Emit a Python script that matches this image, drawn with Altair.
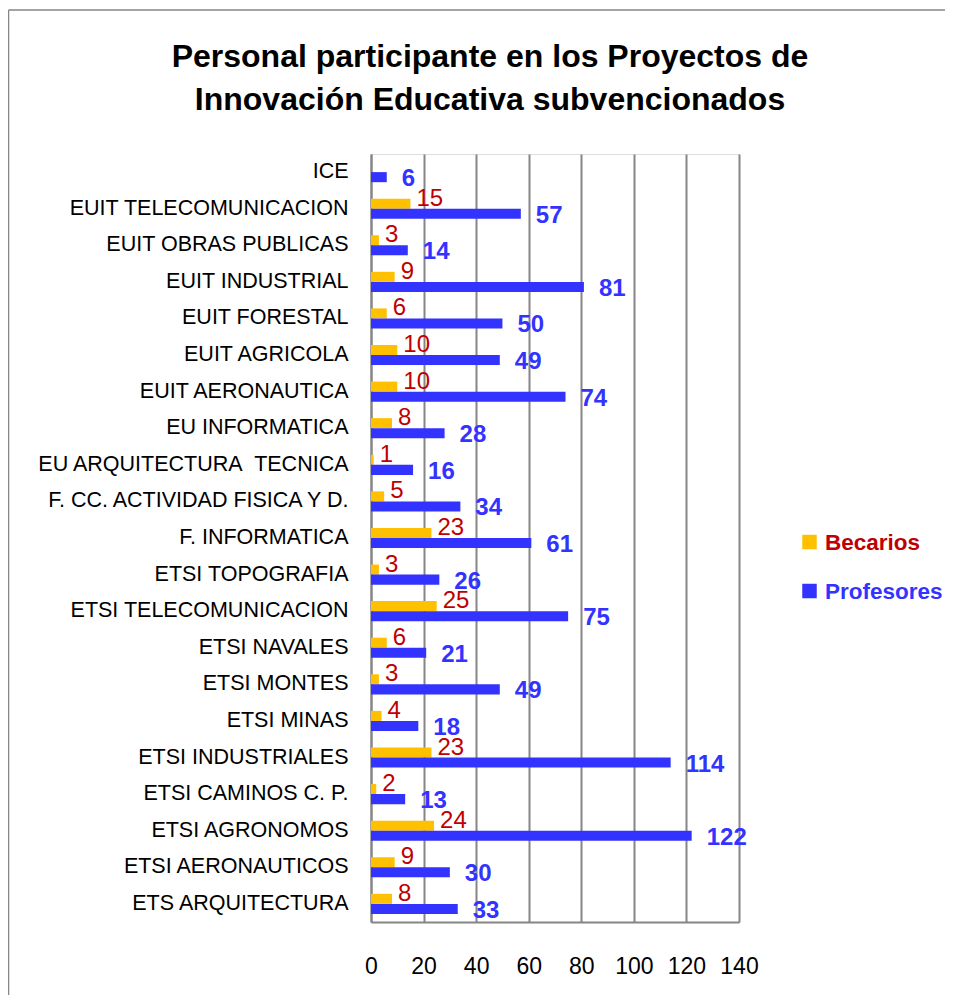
import altair as alt
import pandas as pd

NB = "\u00a0"
categories = [
    "ICE",
    "EUIT TELECOMUNICACION" + NB,
    "EUIT OBRAS PUBLICAS",
    "EUIT INDUSTRIAL",
    "EUIT FORESTAL",
    "EUIT AGRICOLA",
    "EUIT AERONAUTICA",
    "EU INFORMATICA",
    "EU ARQUITECTURA" + NB + " TECNICA",
    "F. CC. ACTIVIDAD FISICA Y D.",
    "F. INFORMATICA",
    "ETSI TOPOGRAFIA",
    "ETSI TELECOMUNICACION" + NB,
    "ETSI NAVALES",
    "ETSI MONTES",
    "ETSI MINAS",
    "ETSI INDUSTRIALES",
    "ETSI CAMINOS C. P.",
    "ETSI AGRONOMOS",
    "ETSI AERONAUTICOS",
    "ETS ARQUITECTURA" + NB,
]
becarios = [0, 15, 3, 9, 6, 10, 10, 8, 1, 5, 23, 3, 25, 6, 3, 4, 23, 2, 24, 9, 8]
profesores = [6, 57, 14, 81, 50, 49, 74, 28, 16, 34, 61, 26, 75, 21, 49, 18, 114, 13, 122, 30, 33]
series = ["Becarios", "Profesores"]
bar_colors = ["#FFC000", "#3333FF"]
label_colors = ["#C00000", "#3333FF"]
x_ticks = [0, 20, 40, 60, 80, 100, 120, 140]
title_lines = ["Personal participante en los Proyectos de", "Innovación Educativa subvencionados"]

rows = []
for c, b, p in zip(categories, becarios, profesores):
    rows.append({"cat": c, "serie": "Becarios", "val": b})
    rows.append({"cat": c, "serie": "Profesores", "val": p})
df = pd.DataFrame(rows)

REG = "Liberation Sans"
GRID = "#868686"

y_enc = alt.Y("cat:N", sort=categories, title=None,
              scale=alt.Scale(paddingInner=0.45, paddingOuter=0.22),
              axis=alt.Axis(labelFont=REG, labelFontSize=21.5, labelColor="#000000",
                            labelPadding=23, ticks=False, domainColor=GRID,
                            domainWidth=2, labelLimit=400, grid=False))
x_enc = alt.X("val:Q", title=None,
              scale=alt.Scale(domain=[0, 140], nice=False),
              axis=alt.Axis(values=x_ticks, labelFont=REG, labelFontSize=23,
                            labelColor="#000000", labelPadding=33, ticks=False,
                            grid=True, gridColor=GRID, gridWidth=2,
                            domainColor=GRID, domainWidth=2, labelFlush=False))
yoff = alt.YOffset("serie:N", sort=series,
                   scale=alt.Scale(domain=series, paddingInner=0, paddingOuter=0))

base = alt.Chart(df)

bars = base.mark_bar().encode(
    x=x_enc, y=y_enc, yOffset=yoff,
    color=alt.Color("serie:N", scale=alt.Scale(domain=series, range=bar_colors), legend=None),
)

lab_b = base.transform_filter("datum.serie == 'Becarios' && datum.val > 0").mark_text(
    align="left", baseline="middle", dx=6, dy=-5, font=REG, fontSize=24, color=label_colors[0]
).encode(x="val:Q", y=alt.Y("cat:N", sort=categories), yOffset=yoff, text="val:Q")

lab_p = base.transform_filter("datum.serie == 'Profesores'").mark_text(
    align="left", baseline="middle", dx=15, dy=2, font=REG, fontSize=24,
    fontWeight="bold", color=label_colors[1]
).encode(x="val:Q", y=alt.Y("cat:N", sort=categories), yOffset=yoff, text="val:Q")

# legend (manual)
leg_layers = []
for i, (s, bc, lc) in enumerate(zip(series, bar_colors, label_colors)):
    d = pd.DataFrame({"serie": [s]})
    yy = 388 + i * 49
    leg_layers.append(alt.Chart(d).mark_square(size=210, color=bc, opacity=1).encode(
        x=alt.value(438.5), y=alt.value(yy)))
    leg_layers.append(alt.Chart(d).mark_text(
        align="left", baseline="middle", font=REG, fontSize=22.5, fontWeight="bold", color=lc
    ).encode(x=alt.value(454), y=alt.value(yy + 1), text="serie:N"))

# title as text
title_layers = []
for i, t in enumerate(title_lines):
    d = pd.DataFrame({"t": [t]})
    title_layers.append(alt.Chart(d).mark_text(
        align="center", baseline="alphabetic", font=REG, fontSize=32, fontWeight="bold",
        color="#000000"
    ).encode(x=alt.value(119), y=alt.value(-87 + i * 43), text="t:N"))

# outer frame
fd = pd.DataFrame({"k": [0]})
frame_top = alt.Chart(fd).mark_rule(color=GRID, strokeWidth=1.5).encode(
    x=alt.value(-362.5), x2=alt.value(700), y=alt.value(-144))
frame_left = alt.Chart(fd).mark_rule(color=GRID, strokeWidth=1.5).encode(
    x=alt.value(-362.5), y=alt.value(-144), y2=alt.value(900))

chart = alt.layer(bars, lab_b, lab_p, *leg_layers, *title_layers, frame_top, frame_left).properties(
    width=368, height=768,
    autosize=alt.AutoSizeParams(type="none"),
    padding={"left": 363, "top": 146, "right": 206, "bottom": 73},
).configure_view(stroke=None).configure(background="#FFFFFF")

chart.save("out.html", embed_options={"renderer": "svg", "actions": False})
